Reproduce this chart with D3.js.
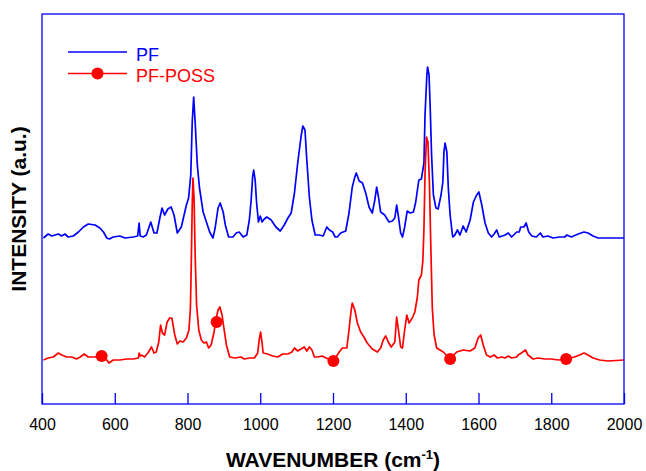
<!DOCTYPE html>
<html>
<head>
<meta charset="utf-8">
<script src="https://cdn.jsdelivr.net/npm/d3@7"></script>
<style>
  body { margin: 0; background: #fff; }
  svg text { font-family: "Liberation Sans", Arial, sans-serif; }
</style>
</head>
<body>
<div id="chart"></div>
<script>
// tick values for the wavenumber axis
var xTicks = [400, 600, 800, 1000, 1200, 1400, 1600, 1800, 2000];

// PF spectrum: [wavenumber, intensity (a.u.)]
var pfSpectrum = [
  [404,166],[417,170],[427,168],[445,170],[454,168],[463,170],[472,167],[486,168],[500,172],[514,177],
  [527,180],[546,179],[559,176],[569,172],[578,166],[585,165],[596,167],[614,168],[628,166],[651,167],
  [663,168],[667,181],[670,168],[678,167],[687,169],[699,182],[708,171],[716,171],[724,186],[730,196],
  [737,189],[746,195],[755,197],[763,189],[772,171],[783,177],[797,199],[803,206],[809,229],[813,282],
  [817,307],[821,282],[827,239],[833,216],[843,192],[852,182],[861,172],[870,166],[876,176],[884,196],
  [890,201],[898,192],[904,179],[913,167],[925,167],[934,171],[942,172],[953,167],[963,169],[970,184],
  [975,204],[979,227],[982,234],[986,224],[990,201],[995,182],[1000,188],[1005,182],[1011,185],[1018,187],
  [1030,184],[1043,177],[1055,173],[1066,179],[1076,186],[1085,191],[1094,211],[1103,241],[1112,267],[1117,278],
  [1123,274],[1128,244],[1135,207],[1142,184],[1151,169],[1162,169],[1173,168],[1183,177],[1190,174],[1199,172],
  [1206,167],[1212,167],[1221,171],[1235,173],[1244,191],[1253,217],[1260,227],[1264,231],[1272,223],[1281,221],
  [1290,211],[1299,197],[1308,191],[1315,204],[1320,217],[1325,207],[1331,192],[1342,189],[1354,182],[1363,183],
  [1370,186],[1375,199],[1380,187],[1386,171],[1391,167],[1397,177],[1404,193],[1412,191],[1421,192],[1427,201],
  [1436,224],[1443,225],[1450,241],[1453,289],[1458,329],[1460,337],[1464,329],[1467,299],[1471,249],[1476,209],
  [1483,196],[1489,195],[1497,209],[1502,222],[1505,252],[1508,261],[1513,252],[1517,216],[1522,189],[1529,167],
  [1535,169],[1542,174],[1549,169],[1558,178],[1566,172],[1577,184],[1586,202],[1595,209],[1601,212],[1609,199],
  [1618,181],[1627,171],[1636,167],[1643,170],[1650,174],[1657,167],[1673,169],[1682,171],[1691,167],[1705,172],
  [1712,172],[1716,177],[1725,177],[1731,181],[1738,172],[1747,168],[1759,167],[1770,171],[1777,167],[1791,168],
  [1805,166],[1823,167],[1837,167],[1843,169],[1855,167],[1874,170],[1890,172],[1901,171],[1915,168],[1929,166],
  [1964,166],[2000,166]
];

// PF-POSS spectrum: [wavenumber, intensity (a.u.)]
var possSpectrum = [
  [404,44],[417,46],[431,47],[445,51],[454,49],[468,47],[482,47],[495,45],[505,47],[516,50],
  [527,47],[546,47],[564,48],[578,44],[584,41],[596,44],[614,44],[633,45],[651,45],[665,46],
  [667,51],[670,48],[673,49],[682,47],[691,51],[701,57],[708,51],[714,52],[721,62],[726,79],
  [731,71],[737,69],[744,82],[751,86],[757,86],[765,69],[772,60],[779,63],[788,62],[797,66],
  [804,74],[808,96],[810,132],[813,199],[815,226],[818,206],[821,149],[825,99],[831,74],[838,64],
  [845,61],[852,62],[858,56],[865,59],[873,72],[879,86],[884,94],[889,97],[895,89],[900,76],
  [907,59],[916,47],[930,46],[947,47],[956,45],[970,46],[984,46],[993,51],[997,64],[1001,72],
  [1005,61],[1008,51],[1020,50],[1034,48],[1048,47],[1062,50],[1076,50],[1087,52],[1094,56],[1103,53],
  [1112,55],[1121,57],[1128,53],[1135,57],[1142,54],[1149,47],[1158,47],[1170,48],[1181,46],[1201,43],
  [1217,52],[1226,56],[1238,56],[1244,74],[1249,91],[1253,101],[1260,94],[1267,81],[1276,72],[1285,67],
  [1294,61],[1308,55],[1322,52],[1331,56],[1338,64],[1345,68],[1352,62],[1360,57],[1370,62],[1375,87],
  [1380,74],[1386,57],[1391,56],[1397,74],[1403,89],[1409,81],[1418,86],[1425,92],[1432,107],[1436,124],
  [1443,129],[1447,143],[1450,175],[1453,230],[1457,267],[1461,262],[1465,222],[1469,156],[1473,96],[1478,69],
  [1485,56],[1494,54],[1503,52],[1522,45],[1540,52],[1558,54],[1577,53],[1590,56],[1599,66],[1606,69],
  [1613,59],[1622,49],[1633,47],[1643,49],[1652,46],[1664,47],[1673,46],[1682,48],[1691,46],[1705,47],
  [1709,49],[1718,51],[1729,54],[1736,49],[1750,45],[1764,46],[1782,45],[1800,45],[1819,44],[1841,45],
  [1864,47],[1878,49],[1890,51],[1901,49],[1915,46],[1933,44],[1956,43],[2000,44]
];

// symbols drawn on the PF-POSS trace
var possMarkers = [[564,48],[880,82],[1201,43],[1522,45],[1841,45]];

var seriesNames = ["PF", "PF-POSS"];
var seriesColors = ["#0000ff", "#ff0000"];

var margin = { top: 14, right: 22, bottom: 67, left: 42 },
    width = 646 - margin.left - margin.right,
    height = 471 - margin.top - margin.bottom;

var svg = d3.select("#chart").append("svg")
    .attr("width", 646)
    .attr("height", 471);

var g = svg.append("g")
    .attr("transform", "translate(" + margin.left + "," + margin.top + ")");

var x = d3.scaleLinear().domain([400, 2000]).range([0, width]);
var y = d3.scaleLinear().domain([0, 390]).range([height, 0]);

var line = d3.line()
    .x(function(d) { return x(d[0]); })
    .y(function(d) { return y(d[1]); });

// spectra
g.append("path")
    .datum(pfSpectrum)
    .attr("fill", "none")
    .attr("stroke", seriesColors[0])
    .attr("stroke-width", 1.7)
    .attr("stroke-linejoin", "round")
    .attr("d", line);

g.append("path")
    .datum(possSpectrum)
    .attr("fill", "none")
    .attr("stroke", seriesColors[1])
    .attr("stroke-width", 1.7)
    .attr("stroke-linejoin", "round")
    .attr("d", line);

g.selectAll(".marker")
    .data(possMarkers)
    .join("circle")
    .attr("class", "marker")
    .attr("cx", function(d) { return x(d[0]); })
    .attr("cy", function(d) { return y(d[1]); })
    .attr("r", 6)
    .attr("fill", seriesColors[1]);

// x axis with inward ticks
var xAxis = g.append("g")
    .attr("transform", "translate(0," + height + ")")
    .call(d3.axisBottom(x).tickValues(xTicks).tickFormat(d3.format("d"))
        .tickSizeInner(-11).tickSizeOuter(0).tickPadding(15));

xAxis.select(".domain").remove();
xAxis.selectAll(".tick line").attr("stroke", "#0000ff").attr("stroke-width", 1.3);
xAxis.selectAll(".tick text")
    .attr("font-size", "16px")
    .attr("font-family", "\"Liberation Sans\", Arial, sans-serif")
    .attr("fill", "#000");

// frame
g.append("rect")
    .attr("width", width)
    .attr("height", height)
    .attr("fill", "none")
    .attr("stroke", "#0000ff")
    .attr("stroke-width", 1.3);

// axis titles
var xTitle = svg.append("text")
    .attr("x", margin.left + width / 2)
    .attr("y", 467)
    .attr("text-anchor", "middle")
    .attr("font-size", "21px")
    .attr("font-weight", "bold")
    .attr("fill", "#000");
xTitle.append("tspan").text("WAVENUMBER (cm");
xTitle.append("tspan").attr("dy", -8).attr("font-size", "13px").text("-1");
xTitle.append("tspan").attr("dy", 8).text(")");

svg.append("text")
    .attr("transform", "translate(26," + (margin.top + height / 2) + ") rotate(-90)")
    .attr("text-anchor", "middle")
    .attr("font-size", "21px")
    .attr("font-weight", "bold")
    .attr("fill", "#000")
    .text("INTENSITY (a.u.)");

// legend
var legend = svg.append("g");
seriesNames.forEach(function(name, i) {
    var ly = 52 + i * 21.5;
    legend.append("line")
        .attr("x1", 68).attr("x2", 127)
        .attr("y1", ly).attr("y2", ly)
        .attr("stroke", seriesColors[i])
        .attr("stroke-width", 1.5);
    if (i == 1) {
        legend.append("circle")
            .attr("cx", 97.5).attr("cy", ly)
            .attr("r", 6)
            .attr("fill", seriesColors[i]);
    }
    legend.append("text")
        .attr("x", 136)
        .attr("y", ly + 8.5)
        .attr("font-size", "18px")
        .attr("fill", seriesColors[i])
        .text(name);
});
</script>
</body>
</html>
